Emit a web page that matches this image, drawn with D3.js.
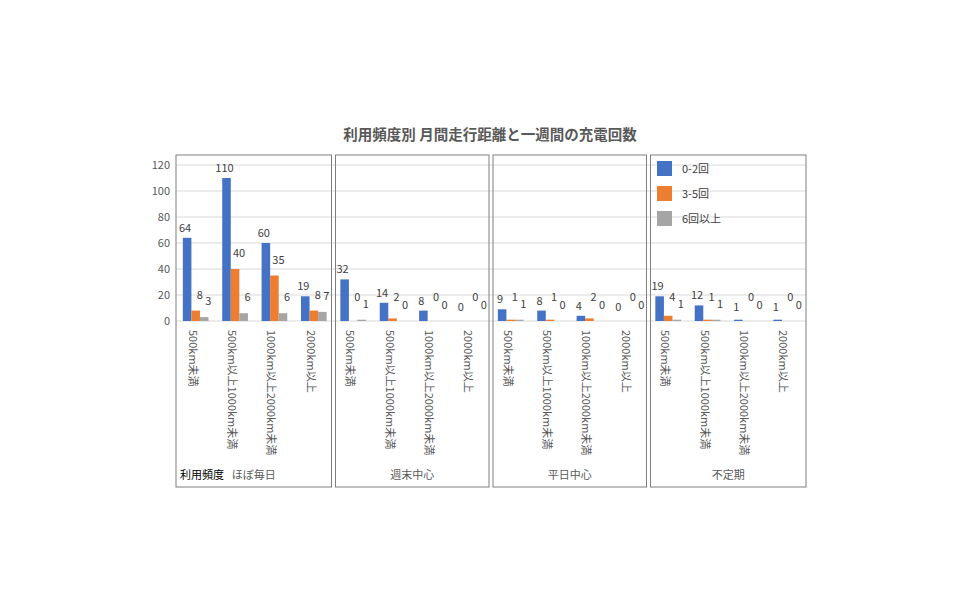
<!DOCTYPE html>
<html><head><meta charset="utf-8">
<script src="https://cdn.jsdelivr.net/npm/d3@7"></script>
<style>body{margin:0;background:#fff}text{font-family:"Noto Sans CJK JP","Noto Sans",sans-serif}</style>
</head><body><svg width="968" height="605"></svg>
<script>
const groups = ["ほぼ毎日", "週末中心", "平日中心", "不定期"];
const distances = ["500km未満", "500km以上1000km未満", "1000km以上2000km未満", "2000km以上"];
const series = ["0-2回", "3-5回", "6回以上"];
const colors = ["#4472c4", "#ed7d31", "#a5a5a5"];
// values[group][distance] = [0-2回, 3-5回, 6回以上]
const values = [
  [[64, 8, 3], [110, 40, 6], [60, 35, 6], [19, 8, 7]],
  [[32, 0, 1], [14, 2, 0], [8, 0, 0], [0, 0, 0]],
  [[9, 1, 1], [8, 1, 0], [4, 2, 0], [0, 0, 0]],
  [[19, 4, 1], [12, 1, 1], [1, 0, 0], [1, 0, 0]]
];
const yTicks = [0, 20, 40, 60, 80, 100, 120];

const svg = d3.select("svg");
const pLeft = 176, pRight = 806, pTop = 155, pBottom = 487;

const cats = [];
groups.forEach((g, gi) => distances.forEach((d, di) => cats.push({g, gi, d, di, v: values[gi][di]})));

const x = d3.scaleBand().domain(d3.range(cats.length)).range([pLeft, pRight]);
const xs = d3.scaleBand().domain(d3.range(3)).range([0, x.bandwidth()]).paddingInner(0).paddingOuter(0.8);
const y = d3.scaleLinear().domain([0, 120]).range([321, 165]);

svg.append("text").attr("x", 490).attr("y", 140).attr("text-anchor", "middle")
  .attr("font-size", 14.5).attr("font-weight", "bold").attr("fill", "#595959")
  .text("利用頻度別 月間走行距離と一週間の充電回数");

// grid
svg.append("g").selectAll("line").data(yTicks).join("line")
  .attr("x1", pLeft).attr("x2", pRight).attr("y1", d => y(d)).attr("y2", d => y(d))
  .attr("stroke", "#d9d9d9");

const yAxis = svg.append("g").attr("transform", `translate(${pLeft},0)`)
  .call(d3.axisLeft(y).tickValues(yTicks).tickSize(0).tickPadding(6));
yAxis.select(".domain").remove();
yAxis.selectAll("text").attr("font-size", 11).attr("fill", "#595959");

// panels
const step = x.step();
groups.forEach((g, gi) => {
  const x0 = pLeft + gi * 4 * step + (gi ? 2 : 0), x1 = pLeft + (gi + 1) * 4 * step - (gi < 3 ? 2 : 0);
  svg.append("rect").attr("x", x0).attr("y", pTop).attr("width", x1 - x0).attr("height", pBottom - pTop)
    .attr("fill", "none").attr("stroke", "#7f7f7f");
  svg.append("text").attr("x", (x0 + x1) / 2).attr("y", 479).attr("text-anchor", "middle")
    .attr("font-size", 11).attr("fill", "#595959").text(g);
});
svg.append("text").attr("x", 180).attr("y", 479).attr("font-size", 11).attr("fill", "#000").text("利用頻度");

// bars
const cg = svg.append("g").selectAll("g").data(cats).join("g")
  .attr("transform", (d, i) => `translate(${x(i)},0)`);
cg.selectAll("rect").data(d => d.v).join("rect")
  .attr("x", (d, i) => xs(i)).attr("width", xs.bandwidth())
  .attr("y", d => y(d)).attr("height", d => y(0) - y(d))
  .attr("fill", (d, i) => colors[i]);
cg.selectAll("text.v").data(d => d.v).join("text").attr("class", "v")
  .attr("x", (d, i) => xs(i) + xs.bandwidth() / 2 + (i ? 4 : -2))
  .attr("y", (d, i) => Math.min(y(d) - (i ? 12 : 6), y(0) - 6 - (i === 1 ? 14 : 4)))
  .attr("text-anchor", "middle").attr("font-size", 11).attr("fill", "#404040")
  .text(d => d);

// rotated category labels
cg.append("text").attr("transform", `translate(${x.bandwidth() / 2 - 4},330) rotate(90)`)
  .attr("font-size", 11).attr("fill", "#595959").attr("dominant-baseline", "middle")
  .text(d => d.d);

// legend
const lg = svg.append("g").selectAll("g").data(series).join("g")
  .attr("transform", (d, i) => `translate(657,${161 + i * 25})`);
lg.append("rect").attr("width", 15).attr("height", 15).attr("fill", (d, i) => colors[i]);
lg.append("text").attr("x", 25).attr("y", 12).attr("font-size", 11).attr("fill", "#404040").text(d => d);
</script></body></html>
